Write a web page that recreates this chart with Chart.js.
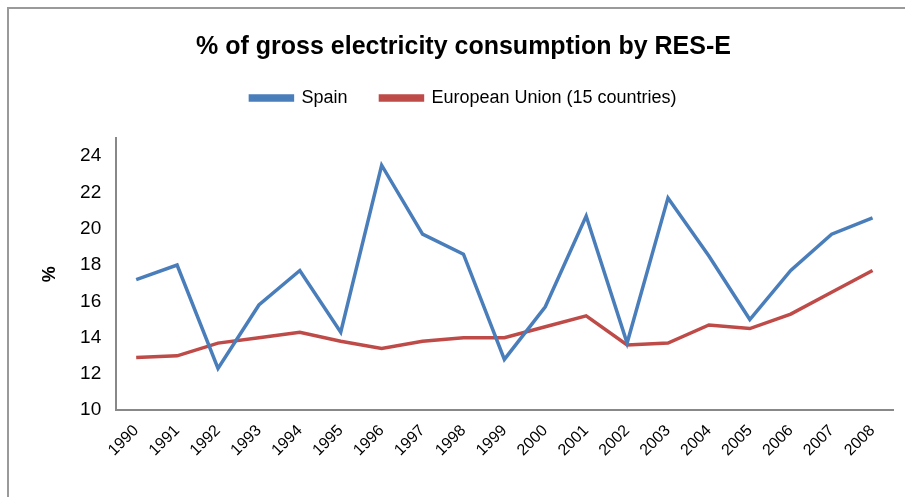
<!DOCTYPE html>
<html>
<head>
<meta charset="utf-8">
<script src="https://cdn.jsdelivr.net/npm/chart.js@4/dist/chart.umd.min.js"></script>
<style>
  body { margin: 0; background: #fff; }
  #frame { position: absolute; left: 7px; top: 7px; right: 0; bottom: 0; border-left: 2px solid #9a9a9a; border-top: 2px solid #9a9a9a; }
  #chart { position: absolute; left: 0; top: 0; }
</style>
</head>
<body>
<div id="frame"></div>
<canvas id="chart" width="905" height="497"></canvas>
<script>
// data
const years = ['1990','1991','1992','1993','1994','1995','1996','1997','1998','1999',
               '2000','2001','2002','2003','2004','2005','2006','2007','2008'];
const spain = [17.2, 18.0, 12.3, 15.8, 17.7, 14.3, 23.5, 19.7, 18.6, 12.8,
               15.7, 20.7, 13.7, 21.7, 18.5, 15.0, 17.7, 19.7, 20.6];
const eu15 = [12.9, 13.0, 13.7, 14.0, 14.3, 13.8, 13.4, 13.8, 14.0, 14.0,
              14.6, 15.2, 13.6, 13.7, 14.7, 14.5, 15.3, 16.5, 17.7];
const yTicks = [10, 12, 14, 16, 18, 20, 22, 24];

const FONT = "'Liberation Sans', Arial, sans-serif";

// extra room between legend and plot
const legendSpacer = {
  id: 'legendSpacer',
  beforeInit(chart) {
    const fit = chart.legend.fit;
    chart.legend.fit = function () { fit.bind(chart.legend)(); this.height += 21; };
  }
};

new Chart(document.getElementById('chart'), {
  type: 'line',
  data: {
    labels: years,
    datasets: [
      { label: 'Spain', data: spain, borderColor: '#4a7ebb', backgroundColor: '#4a7ebb',
        borderWidth: 3.5, pointRadius: 0, tension: 0 },
      { label: 'European Union (15 countries)', data: eu15, borderColor: '#be4b48', backgroundColor: '#be4b48',
        borderWidth: 3.5, pointRadius: 0, tension: 0 }
    ]
  },
  plugins: [legendSpacer],
  options: {
    responsive: false,
    animation: false,
    layout: { padding: { left: 34, right: 12, top: 20, bottom: 26 } },
    plugins: {
      title: {
        display: true,
        text: '% of gross electricity consumption by RES-E',
        color: '#000',
        font: { family: FONT, size: 25, weight: 'bold' },
        padding: { top: 12, bottom: -6 }
      },
      legend: {
        labels: {
          color: '#000',
          font: { family: FONT, size: 18 },
          boxWidth: 42,
          boxHeight: 4,
          padding: 33
        }
      },
      tooltip: { enabled: false }
    },
    scales: {
      x: {
        offset: true,
        grid: { display: false, drawTicks: false },
        border: { color: '#888', width: 2 },
        ticks: {
          color: '#000',
          font: { family: FONT, size: 16 },
          maxRotation: 45, minRotation: 45,
          padding: 11
        }
      },
      y: {
        min: 10, max: 25,
        title: { display: true, text: '%', color: '#000', font: { family: FONT, size: 18, weight: 'bold' }, padding: 5 },
        grid: { display: false, drawTicks: false },
        border: { color: '#888', width: 2 },
        afterBuildTicks: axis => { axis.ticks = yTicks.map(v => ({ value: v })); },
        ticks: {
          color: '#000',
          font: { family: FONT, size: 19 },
          padding: 14.5
        }
      }
    }
  }
});
</script>
</body>
</html>
